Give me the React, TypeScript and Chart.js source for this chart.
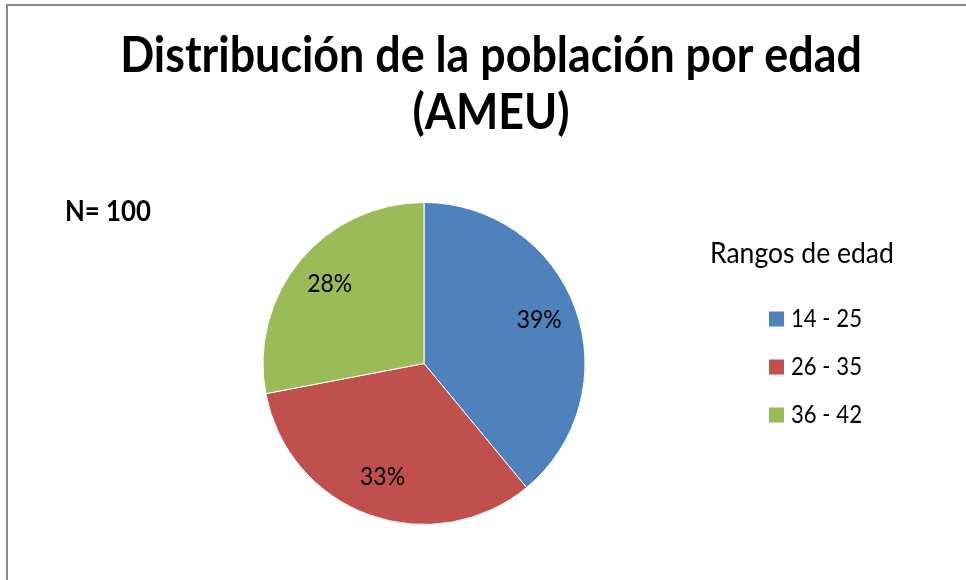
import React, { useEffect, useRef } from "react";
import { Chart, registerables } from "chart.js";

Chart.register(...registerables);

const categories = ["14 - 25", "26 - 35", "36 - 42"];
const values = [39, 33, 28];
const colors = ["#4F81BD", "#C0504D", "#9BBB59"];
const titleLines = ["Distribución de la población por edad", "(AMEU)"];
const sampleNote = "N= 100";
const legendTitle = "Rangos de edad";

const FAMILY = "Lato, 'Open Sans', sans-serif";
const VSCALE = 1.12;

function fitSize(ctx: CanvasRenderingContext2D, text: string, weight: string, target: number) {
  ctx.font = `${weight} 100px ${FAMILY}`;
  const w = ctx.measureText(text).width;
  return (100 * target) / w;
}

function drawText(ctx: CanvasRenderingContext2D, text: string, x: number, y: number) {
  ctx.save();
  ctx.translate(x, y);
  ctx.scale(1, VSCALE);
  ctx.fillText(text, 0, 0);
  ctx.restore();
}

const overlayPlugin = {
  id: "overlay",
  afterDraw(chart: any) {
    const ctx: CanvasRenderingContext2D = chart.ctx;
    ctx.save();
    ctx.fillStyle = "#000";
    ctx.textBaseline = "alphabetic";

    // Title
    const tSize = fitSize(ctx, titleLines[0], "bold", 742);
    ctx.font = `bold ${tSize}px ${FAMILY}`;
    ctx.textAlign = "center";
    drawText(ctx, titleLines[0], 491, 72);
    drawText(ctx, titleLines[1], 491, 129);

    // N note
    const nSize = fitSize(ctx, sampleNote, "bold", 86);
    ctx.font = `bold ${nSize}px ${FAMILY}`;
    ctx.textAlign = "left";
    drawText(ctx, sampleNote, 65, 221);

    // Legend
    const lSize = fitSize(ctx, legendTitle, "normal", 184);
    ctx.font = `normal ${lSize}px ${FAMILY}`;
    drawText(ctx, legendTitle, 710, 263);

    const iSize = fitSize(ctx, "14 - 25", "normal", 71);
    const labels = chart.data.labels as string[];
    const bg = chart.data.datasets[0].backgroundColor as string[];
    labels.forEach((lab, i) => {
      const cy = 319 + i * 48;
      ctx.fillStyle = bg[i];
      ctx.fillRect(769, cy - 7.5, 15, 15);
      ctx.fillStyle = "#000";
      ctx.font = `normal ${iSize}px ${FAMILY}`;
      ctx.textAlign = "left";
      drawText(ctx, lab, 791, cy + 8);
    });

    // Data labels
    const meta = chart.getDatasetMeta(0);
    const data = chart.data.datasets[0].data as number[];
    const total = data.reduce((a, b) => a + b, 0);
    const dSize = fitSize(ctx, "39%", "normal", 45);
    ctx.font = `normal ${dSize}px ${FAMILY}`;
    ctx.textAlign = "center";
    ctx.textBaseline = "middle";
    meta.data.forEach((arc: any, i: number) => {
      const { x, y, startAngle, endAngle, outerRadius } = arc.getProps(
        ["x", "y", "startAngle", "endAngle", "outerRadius"],
        true
      );
      const mid = (startAngle + endAngle) / 2;
      const r = outerRadius * 0.76;
      const pct = Math.round((data[i] / total) * 100) + "%";
      drawText(ctx, pct, x + Math.cos(mid) * r, y + Math.sin(mid) * r - 2);
    });
    ctx.restore();
  },
};

export default function App() {
  const ref = useRef<HTMLCanvasElement | null>(null);
  useEffect(() => {
    if (!ref.current) return;
    const chart = new Chart(ref.current, {
      type: "pie",
      data: {
        labels: categories,
        datasets: [
          {
            data: values,
            backgroundColor: colors,
            borderColor: "#ffffff",
            borderWidth: 1,
          },
        ],
      },
      options: {
        responsive: false,
        animation: false,
        layout: { padding: { left: 262.5, top: 202, right: 380.5, bottom: 55 } },
        plugins: {
          legend: { display: false },
          title: { display: false },
          tooltip: { enabled: false },
        },
      },
      plugins: [overlayPlugin],
    });
    return () => chart.destroy();
  }, []);

  return (
    <div
      style={{
        position: "absolute",
        left: 0,
        top: 0,
        width: 966,
        height: 580,
        overflow: "hidden",
        background: "#fff",
      }}
    >
      <canvas ref={ref} width={966} height={580} style={{ position: "absolute", left: 0, top: 0 }} />
      <div
        style={{
          position: "absolute",
          left: 6,
          top: 4,
          width: 1100,
          height: 1100,
          borderLeft: "2px solid #8a8a8a",
          borderTop: "2px solid #8a8a8a",
          pointerEvents: "none",
        }}
      />
    </div>
  );
}
